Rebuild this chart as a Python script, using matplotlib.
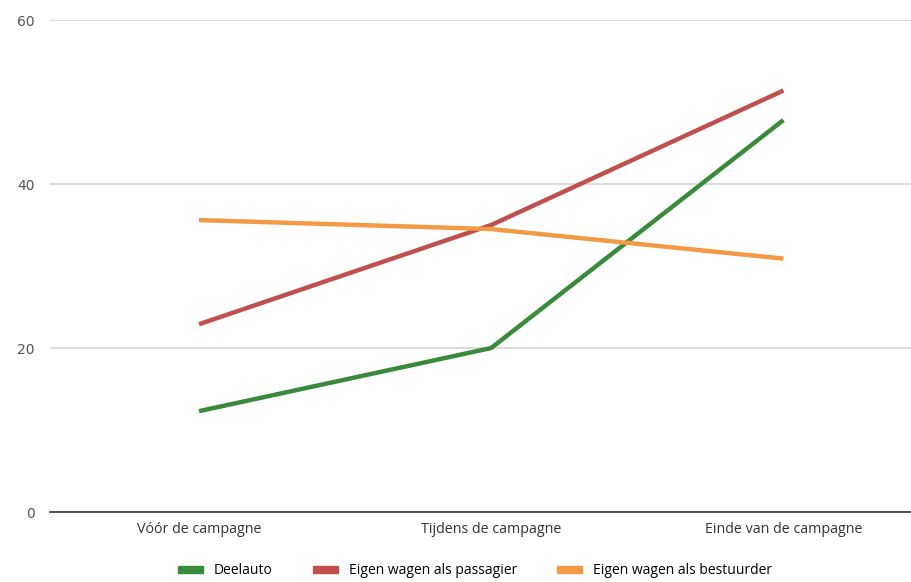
import matplotlib.pyplot as plt
import numpy as np

# fasen van de campagne en aandeel per vervoerswijze
fasen = ['Vóór de campagne', 'Tijdens de campagne', 'Einde van de campagne']
deelauto = [12.3, 20.0, 47.8]
passagier = [22.9, 35.0, 51.4]
bestuurder = [35.6, 34.5, 30.9]

reeksen = [
    ('Deelauto', deelauto, '#3a8a3c'),
    ('Eigen wagen als passagier', passagier, '#c0504d'),
    ('Eigen wagen als bestuurder', bestuurder, '#f39a45'),
]

fig = plt.figure(figsize=(9.12, 5.82), dpi=100)
ax = fig.add_axes([50 / 912, 1 - 512 / 582, 862 / 912, 492 / 582])

x = np.arange(len(fasen))
for naam, waarden, kleur in reeksen:
    ax.plot(x, waarden, color=kleur, lw=3.2, label=naam, solid_capstyle='butt')

ax.set_xlim(-0.51, 2.44)
ax.set_ylim(0, 60)
ax.set_yticks([0, 20, 40, 60])
ax.set_xticks(x)
ax.set_xticklabels(fasen, fontsize=10.3, color='#333333', family='Open Sans')
ax.tick_params(axis='y', length=0, pad=11, labelsize=10, labelcolor='#555555')
ax.tick_params(axis='x', length=0, pad=7)
ax.grid(axis='y', color='#d6d6d6', lw=1.2)
ax.set_axisbelow(True)
for s in ['left', 'right', 'top']:
    ax.spines[s].set_visible(False)
ax.spines['bottom'].set_color('#444444')
ax.spines['bottom'].set_linewidth(1.3)

handles = [plt.Rectangle((0, 0), 1, 1, color=k) for _, _, k in reeksen]
fig.legend(handles, [n for n, _, _ in reeksen], loc='center', bbox_to_anchor=(475 / 912, 1 - 571 / 582),
           ncol=3, frameon=False, handlelength=1.8, handleheight=0.45, columnspacing=2.9,
           prop={'family': 'Open Sans', 'size': 10})

fig.savefig('out.png')
